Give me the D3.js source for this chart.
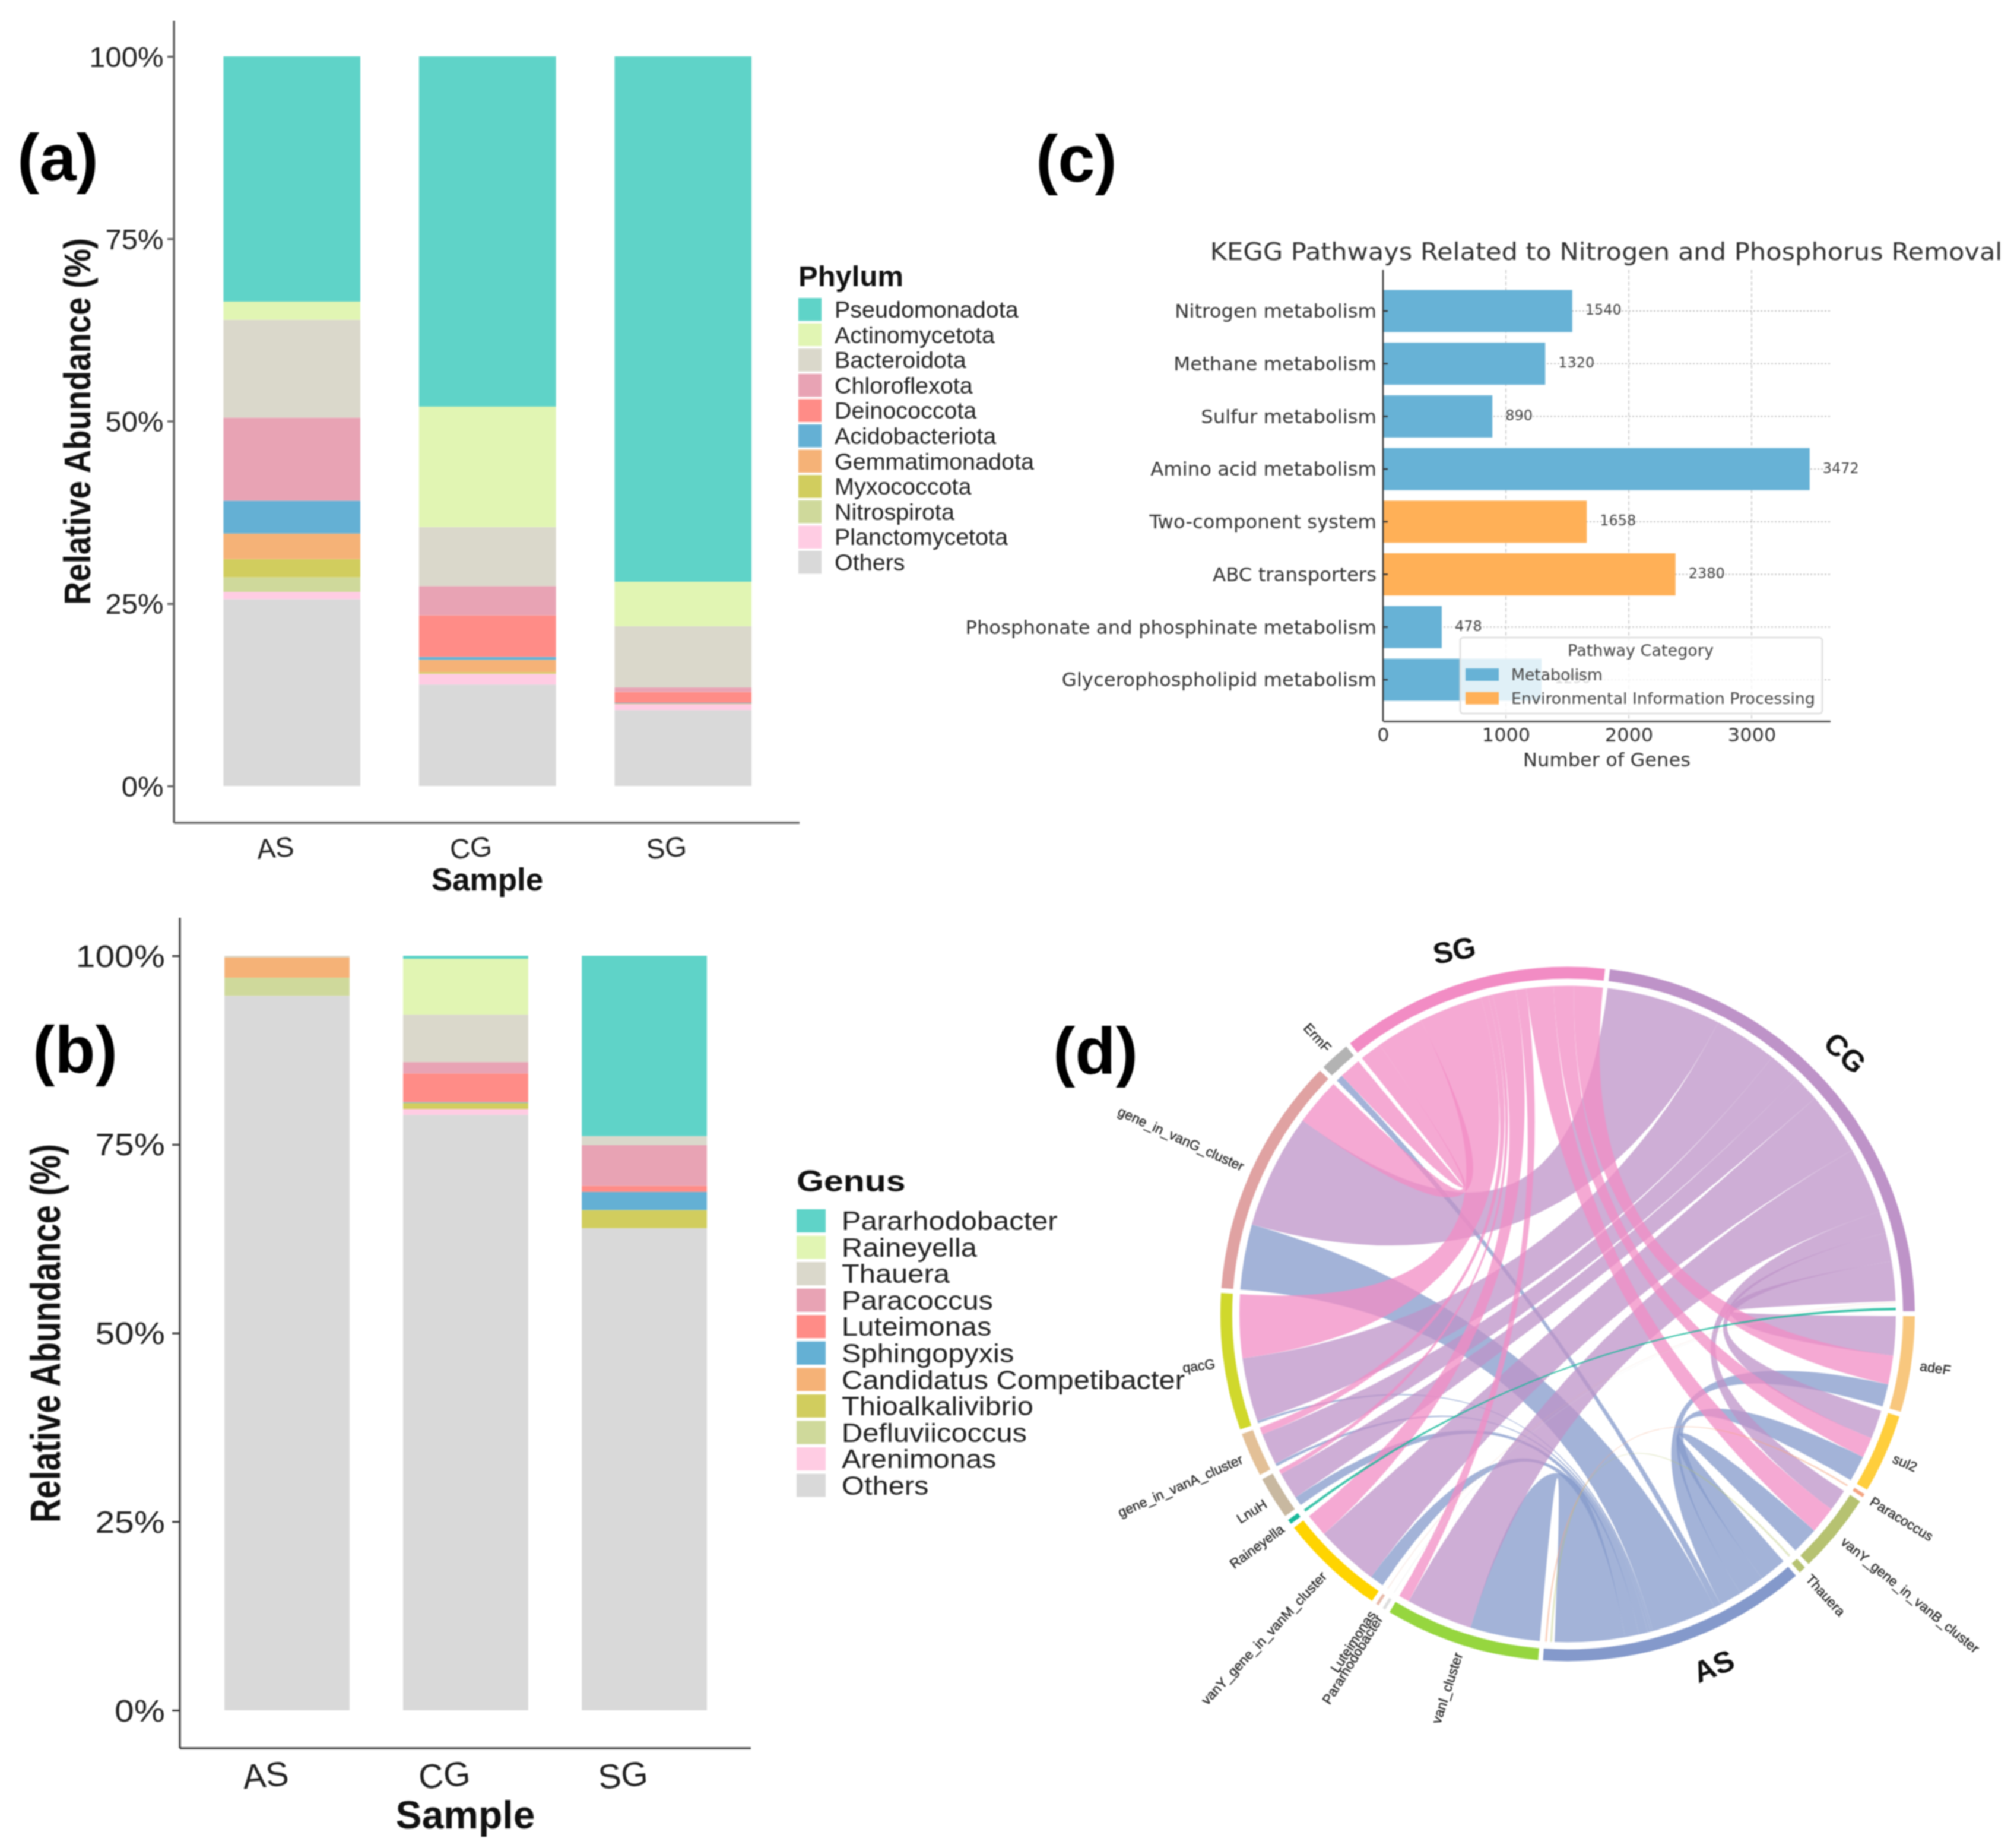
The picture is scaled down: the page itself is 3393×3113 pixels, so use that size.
<!DOCTYPE html>
<html><head><meta charset="utf-8">
<script src="https://cdn.jsdelivr.net/npm/d3@7"></script>
<style>html,body{margin:0;background:#fff}svg{display:block;filter:blur(1.1px)}</style>
</head><body><svg id="c" width="3393" height="3113" viewBox="0 0 3393 3113"></svg>
<script>
// ---------- data ----------
const samples = ["AS","CG","SG"];
const stackColors = ["#5FD3C8","#E1F5B3","#DAD8CB","#E8A3B4","#FF8C87","#64B0D4","#F5B277","#D1CD5E","#CFD99B","#FFCCE3","#D9D9D9"];
const phyla = ["Pseudomonadota","Actinomycetota","Bacteroidota","Chloroflexota","Deinococcota","Acidobacteriota","Gemmatimonadota","Myxococcota","Nitrospirota","Planctomycetota","Others"];
const phylumAS = [33.6,2.5,13.4,11.4,0,4.5,3.5,2.5,2.0,1.0,25.6];
const phylumCG = [48,16.5,8.1,4.0,5.7,0.4,1.7,0.2,0,1.5,13.9];
const phylumSG = [72,6.1,8.4,0.6,1.5,0.1,0.1,0,0,0.8,10.4];
const genera = ["Pararhodobacter","Raineyella","Thauera","Paracoccus","Luteimonas","Sphingopyxis","Candidatus Competibacter","Thioalkalivibrio","Defluviicoccus","Arenimonas","Others"];
const genusAS = [0,0,0.2,0,0,0,2.7,0,2.4,0,94.7];
const genusCG = [0.4,7.4,6.3,1.5,3.8,0.1,0,0.8,0,0.8,78.9];
const genusSG = [23.9,0,1.2,5.4,0.8,2.4,0,2.4,0,0,63.9];
const percentTicks = [0,25,50,75,100];

const pathways = ["Nitrogen metabolism","Methane metabolism","Sulfur metabolism","Amino acid metabolism","Two-component system","ABC transporters","Phosphonate and phosphinate metabolism","Glycerophospholipid metabolism"];
const pathwayGenes = [1540,1320,890,3472,1658,2380,478,1290];
const pathwayCategory = ["Metabolism","Metabolism","Metabolism","Metabolism","Environmental Information Processing","Environmental Information Processing","Metabolism","Metabolism"];
const categories = ["Metabolism","Environmental Information Processing"];
const categoryColors = ["#67B2D6","#FFB057"];
const geneTicks = [0,1000,2000,3000];

const sectors = ["CG","adeF","sul2","Paracoccus","vanY_gene_in_vanB_cluster","Thauera","AS","vanI_cluster","Pararhodobacter","Luteimonas","vanY_gene_in_vanM_cluster","Raineyella","LnuH","gene_in_vanA_cluster","qacG","gene_in_vanG_cluster","ErmF","SG"];
const sectorColors = ["#BE93C8","#F8C77E","#FFCE3C","#F4A582","#B6C271","#B6C271","#8499CB","#96D63F","#DDDDDD","#E7B9A9","#FFD400","#19B99A","#C8B8A0","#E3C097","#D0D82C","#E0A2A2","#B3B3B3","#F28CC4"];
const linkGene = ["adeF","adeF","adeF","sul2","sul2","sul2","Paracoccus","vanY_gene_in_vanB_cluster","vanY_gene_in_vanB_cluster","vanY_gene_in_vanB_cluster","Thauera","vanI_cluster","vanI_cluster","vanI_cluster","Pararhodobacter","Luteimonas","vanY_gene_in_vanM_cluster","vanY_gene_in_vanM_cluster","vanY_gene_in_vanM_cluster","Raineyella","LnuH","LnuH","LnuH","gene_in_vanA_cluster","gene_in_vanA_cluster","gene_in_vanA_cluster","qacG","qacG","qacG","gene_in_vanG_cluster","gene_in_vanG_cluster","gene_in_vanG_cluster","ErmF","ErmF"];
const linkSample = ["CG","SG","AS","CG","SG","AS","AS","CG","SG","AS","AS","AS","CG","SG","CG","CG","AS","CG","SG","CG","AS","CG","SG","AS","CG","SG","AS","CG","SG","AS","CG","SG","AS","SG"];
const linkValue = [7.0,5.1,4.0,5.1,3.6,4.6,0.6,3.9,4.8,4.8,1.2,12.4,11.8,1.9,0.5,0.5,2.5,11.2,4.1,0.8,1.6,4.8,0.8,0.5,5.6,1.3,0.4,11.3,11.3,11.6,20.4,8.4,1.2,3.9];
const orderAS = ["vanY_gene_in_vanB_cluster","sul2","adeF","ErmF","gene_in_vanG_cluster","qacG","gene_in_vanA_cluster","LnuH","vanY_gene_in_vanM_cluster","vanI_cluster","Thauera","Paracoccus"];
const orderCG = ["gene_in_vanG_cluster","qacG","gene_in_vanA_cluster","LnuH","vanY_gene_in_vanM_cluster","vanI_cluster","vanY_gene_in_vanB_cluster","sul2","adeF","Luteimonas","Pararhodobacter","Raineyella"];
const orderSG = ["ErmF","gene_in_vanG_cluster","qacG","gene_in_vanA_cluster","LnuH","vanY_gene_in_vanM_cluster","vanI_cluster","vanY_gene_in_vanB_cluster","sul2","adeF"];
const thinTaxa = ["Paracoccus","Thauera","Luteimonas","Pararhodobacter","Raineyella"];
const thinShare = [0.5,0.3,0.35,0.35,0.6];
const thinOpacity = [0.55,0.4,0.3,0.3,0.85];

// ---------- helpers ----------
const svg = d3.select("#c");
svg.append("rect").attr("width",3393).attr("height",3113).attr("fill","#fff");
const SANS = "'Liberation Sans',Arial,sans-serif", DJ = "'DejaVu Sans',sans-serif";
function txt(p,s,o){
  const t = p.append("text").text(s)
    .attr("font-family",o.family||SANS).attr("font-size",o.size)
    .attr("font-weight",o.weight||"normal").attr("text-anchor",o.anchor||"start")
    .attr("fill",o.fill||"#222");
  if(o.mid) t.attr("dy",".35em");
  let sx=o.sx||1;
  if(o.w) sx=o.w/t.node().getComputedTextLength();
  t.attr("transform",`translate(${o.x},${o.y}) rotate(${o.rot||0}) scale(${sx},1)`);
  return t;
}
function restyleAxis(g,o){
  g.selectAll("path.domain").attr("stroke",o.color).attr("stroke-width",o.lw);
  g.selectAll(".tick line").attr("stroke",o.color).attr("stroke-width",o.lw);
}
function fitTicks(g,o){
  g.selectAll(".tick text").attr("font-family",o.family||SANS).attr("font-size",o.size).attr("fill",o.fill||"#222")
    .attr("x",0).attr("y",0).attr("dy",o.dy||".35em")
    .attr("transform",`translate(${o.dx||0},${o.off||0}) rotate(${o.rot||0}) scale(${o.sx||1},1)`);
}

// ---------- stacked panels ----------
function stacked(c){
  const g = svg.append("g");
  const x = d3.scaleBand().domain(samples).range(c.xr).paddingInner(.3).paddingOuter(.15);
  const y = d3.scaleLinear().domain([0,100]).range([c.y0,c.y100]);
  const rows = samples.map((s,i)=>{const r={sample:s};c.names.forEach((n,j)=>r[n]=c.values[i][j]);return r;});
  const keys = c.names.slice().reverse();
  const color = d3.scaleOrdinal(c.names,stackColors);
  const series = d3.stack().keys(keys)(rows);
  g.selectAll("g.s").data(series).join("g").attr("class","s").attr("fill",d=>color(d.key))
   .selectAll("rect").data(d=>d).join("rect")
   .attr("x",d=>x(d.data.sample)).attr("width",x.bandwidth())
   .attr("y",d=>y(d[1])).attr("height",d=>y(d[0])-y(d[1]));
  const ya = g.append("g").attr("transform",`translate(${c.axX},0)`)
     .call(d3.axisLeft(y).tickValues(percentTicks).tickFormat(d=>d+"%").tickSize(c.tick).tickSizeOuter(0));
  ya.select("path.domain").remove();
  restyleAxis(ya,{color:c.axis,lw:c.lw});
  fitTicks(ya,{size:c.tickFont,sx:c.tickSx,dx:-c.tickOff});
  g.append("line").attr("x1",c.axX).attr("x2",c.axX).attr("y1",c.axTop).attr("y2",c.axBot).attr("stroke",c.axis).attr("stroke-width",c.lw);
  g.append("line").attr("x1",c.axX).attr("x2",c.axRight).attr("y1",c.axBot).attr("y2",c.axBot).attr("stroke",c.axis).attr("stroke-width",c.lw);
  samples.forEach(s=>txt(g,s,{x:x(s)+x.bandwidth()/2-c.xShift,y:c.xLabY,size:c.xFont,anchor:"middle",mid:true,rot:-5}));
  txt(g,"Sample",{x:c.sampleX,y:c.sampleY,size:c.sampleFont,weight:"bold",anchor:"middle",mid:true,fill:"#111"});
  txt(g,"Relative Abundance (%)",{x:c.titleX,y:c.titleY,size:c.titleFont,w:c.titleW,weight:"bold",anchor:"middle",mid:true,rot:-90,fill:"#111"});
  txt(g,c.legendTitle,{x:c.lx,y:c.ltY,size:c.ltFont,sx:c.ltSx,weight:"bold",fill:"#111"});
  c.names.forEach((n,i)=>{
    g.append("rect").attr("x",c.lx).attr("y",c.ly+i*c.lstep).attr("width",c.lw2).attr("height",c.lh).attr("fill",color(n));
    txt(g,n,{x:c.ltx,y:c.ly+i*c.lstep+c.lh/2,size:c.lFont,sx:c.lSx,mid:true});
  });
}
stacked({names:phyla,values:[phylumAS,phylumCG,phylumSG],xr:[327,1315.5],y0:1324,y100:95,axX:293,axTop:35,axBot:1386,axRight:1347,axis:"#666",lw:3.5,
  tick:11,tickFont:49,tickSx:1,tickOff:17.5,xFont:47,xLabY:1428,xShift:28,sampleX:821,sampleY:1481,sampleFont:53,titleX:130,titleY:710,titleFont:63,titleW:618,
  legendTitle:"Phylum",lx:1345,ltY:482,ltFont:49,ltSx:1,ly:502,lstep:42.6,lw2:39,lh:38.5,ltx:1406,lFont:39.5,lSx:1});
stacked({names:genera,values:[genusAS,genusCG,genusSG],xr:[333,1236],y0:2881,y100:1610,axX:303,axTop:1546,axBot:2945,axRight:1265,axis:"#333",lw:3,
  tick:13,tickFont:52,tickSx:1.13,tickOff:25,xFont:58,xLabY:2990,xShift:36,sampleX:784,sampleY:3057,sampleFont:66,titleX:76,titleY:2246,titleFont:70,titleW:638,
  legendTitle:"Genus",lx:1342,ltY:2007,ltFont:50,ltSx:1.18,ly:2037,lstep:44.56,lw2:49,lh:39,ltx:1418,lFont:45,lSx:1.085});

// ---------- panel c ----------
(function(){
  const g = svg.append("g");
  const x = d3.scaleLinear().domain([0,3640]).range([2330,3083.5]);
  const y = d3.scaleBand().domain(pathways).range([479.6,1189.4]).paddingInner(.2).paddingOuter(.1);
  const col = d3.scaleOrdinal(categories,categoryColors);
  const top=454.5,bot=1215;
  g.append("g").selectAll("line").data(geneTicks.slice(1)).join("line")
   .attr("x1",x).attr("x2",x).attr("y1",top).attr("y2",bot).attr("stroke","#c4c4c4").attr("stroke-width",1.6).attr("stroke-dasharray","6 4");
  g.append("g").selectAll("line").data(pathways).join("line")
   .attr("x1",x(0)).attr("x2",x(3640)).attr("y1",d=>y(d)+y.bandwidth()/2).attr("y2",d=>y(d)+y.bandwidth()/2)
   .attr("stroke","#bbb").attr("stroke-width",1.8).attr("stroke-dasharray","3 3");
  g.append("g").selectAll("rect").data(pathways).join("rect")
   .attr("x",x(0)).attr("y",d=>y(d)).attr("height",y.bandwidth())
   .attr("width",(d,i)=>x(pathwayGenes[i])-x(0)).attr("fill",(d,i)=>col(pathwayCategory[i]));
  pathways.forEach((p,i)=>txt(g,pathwayGenes[i],{family:DJ,x:x(pathwayGenes[i])+22,y:y(p)+y.bandwidth()/2-2,size:24,mid:true,fill:"#444"}));
  const ya = g.append("g").attr("transform",`translate(${x(0)},0)`).call(d3.axisLeft(y).tickSize(-8).tickSizeOuter(0));
  ya.select("path.domain").remove(); restyleAxis(ya,{color:"#333",lw:2.5});
  fitTicks(ya,{family:DJ,size:32,sx:1.01,dx:-11,fill:"#333"});
  g.append("line").attr("x1",x(0)).attr("x2",x(0)).attr("y1",top).attr("y2",bot).attr("stroke","#333").attr("stroke-width",2.5);
  const xa = g.append("g").attr("transform",`translate(0,${bot})`).call(d3.axisBottom(x).tickValues(geneTicks).tickFormat(d3.format("d")).tickSize(0).tickSizeOuter(0));
  xa.select("path.domain").attr("stroke","#555").attr("stroke-width",3);
  fitTicks(xa,{family:DJ,size:32,sx:1,off:23,fill:"#333"});
  txt(g,"Number of Genes",{family:DJ,x:2707,y:1280,size:32,w:282,anchor:"middle",mid:true,fill:"#333"});
  txt(g,"KEGG Pathways Related to Nitrogen and Phosphorus Removal",{family:DJ,x:2706,y:424,size:40,w:1335,anchor:"middle",mid:true,fill:"#333"});
  g.append("rect").attr("x",2460).attr("y",1074).attr("width",610).attr("height",128).attr("rx",5)
   .attr("fill","#fff").attr("fill-opacity",.8).attr("stroke","#ddd").attr("stroke-width",2.5);
  txt(g,"Pathway Category",{family:DJ,x:2764,y:1096,size:26,w:246,anchor:"middle",mid:true,fill:"#444"});
  categories.forEach((c,i)=>{
    g.append("rect").attr("x",2469).attr("y",1126+i*39.7).attr("width",56).attr("height",21).attr("fill",col(c));
    txt(g,c,{family:DJ,x:2546,y:1137+i*39.7,size:26,w:i?512:154,mid:true,fill:"#444"});
  });
})();

// ---------- panel d ----------
(function(){
  const cx=2641,cy=2213.5;
  const g = svg.append("g");
  const ch = g.append("g").attr("transform",`translate(${cx},${cy})`);
  const rad=Math.PI/180, gap=.81*rad;
  const n=sectors.length;
  const links = linkValue.map((v,i)=>({gene:linkGene[i],sample:linkSample[i],value:v}));
  const total = 2*d3.sum(linkValue);
  const k = d3.scaleLinear().domain([0,total]).range([0,2*Math.PI-n*gap]);
  const byGene = name=>links.filter(l=>l.gene===name);
  const sampleOrders = {AS:orderAS,CG:orderCG,SG:orderSG};
  let a = 7*rad;
  const layout = {};
  sectors.forEach((s,i)=>{
    const start=a;
    if(sampleOrders[s]){
      sampleOrders[s].forEach(gn=>{
        const l=links.find(d=>d.gene===gn&&d.sample===s);
        l.t={startAngle:a,endAngle:a+k(l.value)}; a+=k(l.value);
      });
    } else {
      byGene(s).forEach(l=>{ l.s={startAngle:a,endAngle:a+k(l.value)}; a+=k(l.value); });
    }
    layout[s]={startAngle:start,endAngle:a,color:sectorColors[i],name:s};
    a+=gap;
  });
  const ribbon = d3.ribbon().radius(553);
  const arc = d3.arc().innerRadius(565).outerRadius(585);
  const sampleNames=["AS","CG","SG"];
  const narrow=(e,share)=>{const m=(e.startAngle+e.endAngle)/2,h=(e.endAngle-e.startAngle)/2*share;return {startAngle:m-h,endAngle:m+h};};
  const thinIdx=d=>thinTaxa.indexOf(d.gene);
  const ranked = links.slice().sort((p,q)=>{
    const rp=thinIdx(p)>=0?3:sampleNames.indexOf(p.sample);
    const rq=thinIdx(q)>=0?3:sampleNames.indexOf(q.sample);
    return rp-rq;
  });
  ch.selectAll("path.rib").data(ranked).join("path").attr("class","rib")
    .attr("d",d=>{
      const i=thinIdx(d);
      return i>=0?ribbon({source:narrow(d.s,thinShare[i]),target:narrow(d.t,thinShare[i])}):ribbon({source:d.s,target:d.t});
    })
    .attr("fill",d=>thinIdx(d)>=0?layout[d.gene].color:layout[d.sample].color)
    .attr("fill-opacity",d=>thinIdx(d)>=0?thinOpacity[thinIdx(d)]:.75);
  ch.selectAll("path.ring").data(Object.values(layout)).join("path").attr("class","ring")
    .attr("d",arc).attr("fill",d=>d.color);
  const labelShift={AS:-4,CG:-1.5,SG:-1}, labelRot={AS:-22,CG:43,SG:-11};
  Object.values(layout).forEach(s=>{
    let deg=((s.startAngle+s.endAngle)/2/rad)%360;
    if(sampleNames.includes(s.name)){
      deg+=labelShift[s.name];
      const th=(deg-90)*rad, r=642;
      txt(g,s.name,{x:cx+r*Math.cos(th),y:cy+r*Math.sin(th),size:50,weight:"bold",anchor:"middle",mid:true,rot:labelRot[s.name],fill:"#111"});
    } else {
      const th=(deg-90)*rad, r=600, right=deg<180;
      txt(g,s.name,{x:cx+r*Math.cos(th),y:cy+r*Math.sin(th),size:23,anchor:right?"start":"end",mid:true,
        rot:right?deg-90:deg+90,fill:"#222"}).attr("stroke","#222").attr("stroke-width",.35);
    }
  });
})();

// ---------- panel letters ----------
[["(a)",29,304],["(b)",55,1807],["(c)",1745,306],["(d)",1774,1809]].forEach(d=>
  svg.append("text").text(d[0]).attr("x",d[1]).attr("y",d[2]).attr("font-family",SANS).attr("font-weight","bold").attr("font-size",112).attr("fill","#000"));
</script></body></html>
